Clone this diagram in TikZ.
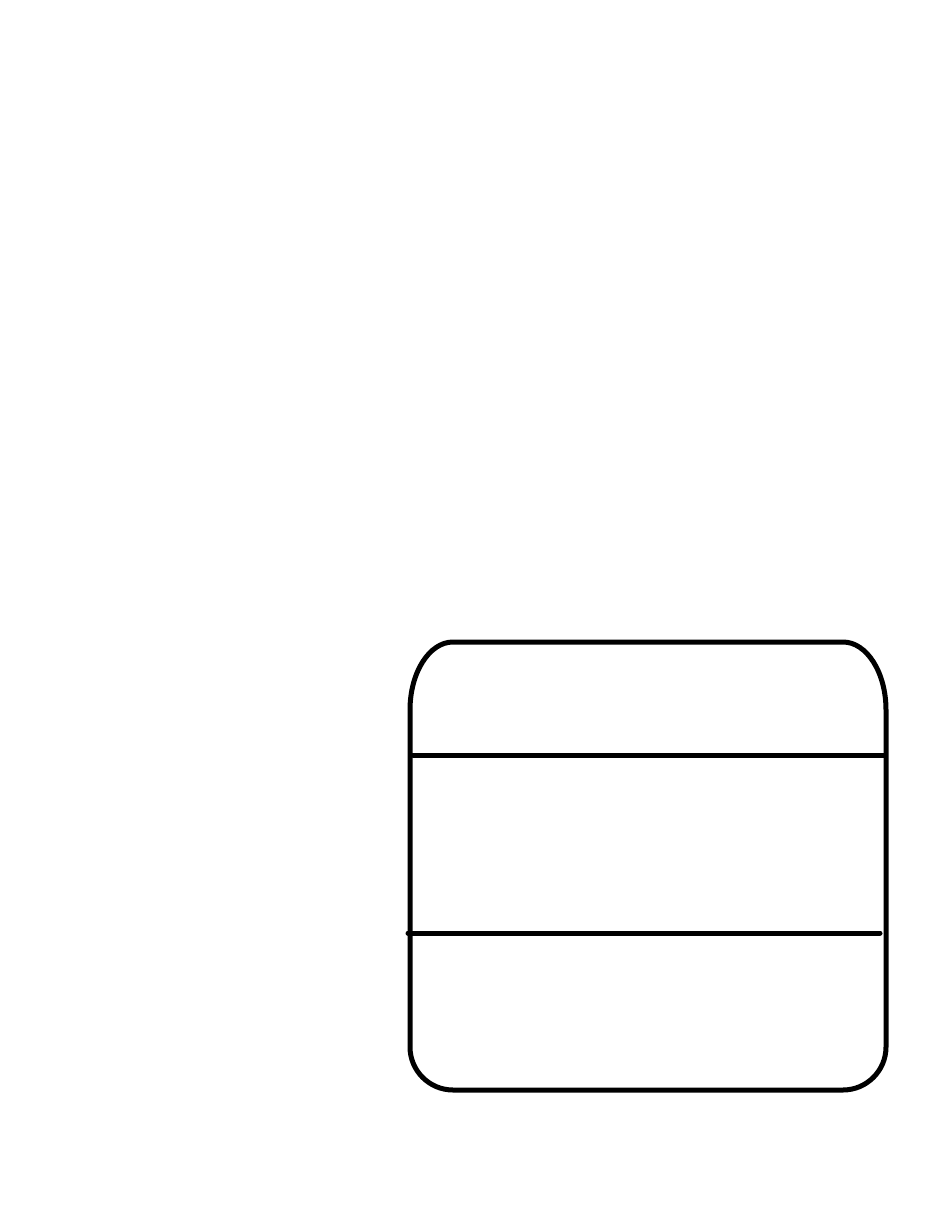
\documentclass[tikz,border=0pt]{standalone}
\begin{document}
\begin{tikzpicture}[x=1pt,y=-1pt,
  outline/.style={line width=5pt,line join=round},
  divider/.style={line width=5pt,line cap=round}]
\useasboundingbox (0,0) rectangle (935,1210);
\draw[outline] (410,710) .. controls (410,672.4) and (429.3,642) .. (453,642)
  -- (843,642) .. controls (866.7,642) and (886,672.4) .. (886,710)
  -- (886,1047) .. controls (886,1070.7) and (866.7,1090) .. (843,1090)
  -- (453,1090) .. controls (429.3,1090) and (410,1070.7) .. (410,1047)
  -- cycle;
\coordinate (l1a) at (413,755);
\coordinate (l1b) at (884,755);
\coordinate (l2a) at (408,933);
\coordinate (l2b) at (880,933);
\draw[divider] (l1a) -- (l1b);
\draw[divider] (l2a) -- (l2b);
\end{tikzpicture}
\end{document}
